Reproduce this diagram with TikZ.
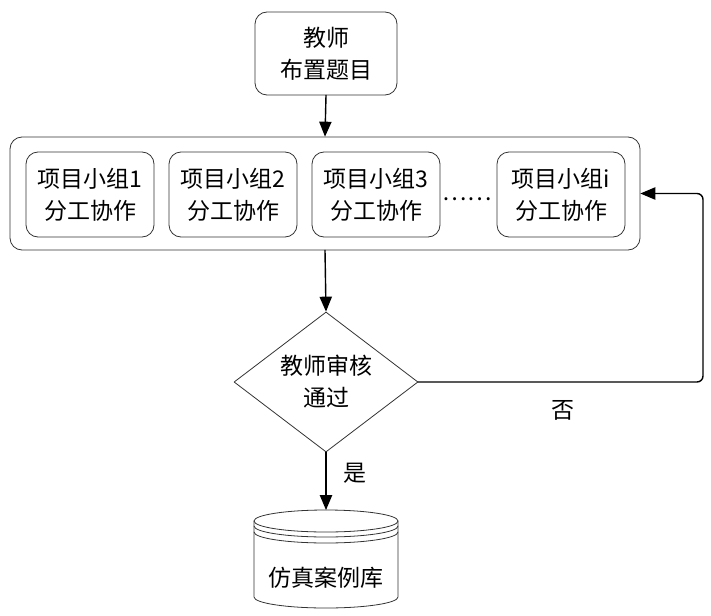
\documentclass[tikz,border=0pt]{standalone}
\usepackage{fontspec}
\newfontfamily\cjk{Noto Sans CJK SC}
\usetikzlibrary{arrows, calc, shapes.geometric}

\begin{document}
\begin{tikzpicture}[line cap=round,line join=round,>=triangle 45,x=0.5pt,y=-0.5pt,
  font=\cjk\fontsize{11.5}{16}\selectfont,
  box/.style={draw=black!80, rounded corners=6pt, align=center, inner sep=0pt},
  group/.style={box, minimum width=64pt, minimum height=42.5pt},
  flow/.style={->, line width=0.7pt}]
\useasboundingbox (0,0) rectangle (711,615);

\node[box, minimum width=71pt, minimum height=41.5pt] (T) at (326,53.5) {教师\\布置题目};

\node[box, minimum width=315pt, minimum height=56.5pt] (G) at (325,193.5) {};

\node[group] (G1) at (90,194.5) {项目小组1\\分工协作};
\node[group] (G2) at (233,194.5) {项目小组2\\分工协作};
\node[group] (G3) at (376,194.5) {项目小组3\\分工协作};
\node[group] (Gi) at (561,194.5) {项目小组i\\分工协作};
\node (dots) at (467,199) {……};

\node[diamond, draw=black!80, aspect=1.31, minimum width=92pt, minimum height=70pt, inner sep=0pt, align=center] (D) at (326,382) {教师审核\\通过};

% database
\coordinate (K) at (326,521);
\draw[black!80] (K) ellipse [x radius=72, y radius=11];
\draw[black!80] (254,526) arc [start angle=180, end angle=0, x radius=72, y radius=11];
\draw[black!80] (254,532) arc [start angle=180, end angle=0, x radius=72, y radius=11];
\draw[black!80] (254,521) -- (254,597) arc [start angle=180, end angle=0, x radius=72, y radius=11] -- (398,521);
\node (K2) at (326,578) {仿真案例库};
\coordinate (Ktop) at (326,510);

\draw[flow] (T.south) -- (G.north);
\draw[flow] (G.south) -- (D.north);
\draw[flow] (D.south) -- (Ktop);
\coordinate (back) at (703,382);
\draw[flow, rounded corners=3pt] (D.east) -- (back) -- (back |- G.east) -- (G.east);

\node (yes) at (355,473) {是};
\node (no) at (563,410) {否};

\end{tikzpicture}
\end{document}
